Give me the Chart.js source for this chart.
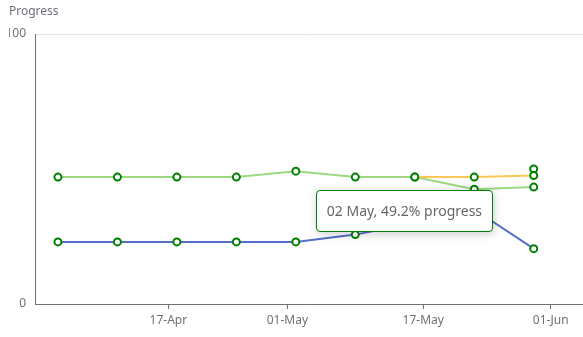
<!DOCTYPE html>
<html>
<head>
<meta charset="utf-8">
<script src="https://cdn.jsdelivr.net/npm/chart.js@4.4.1/dist/chart.umd.min.js"></script>
<style>
  body { margin: 0; background: #fff; }
  #wrap { position: relative; width: 583px; height: 337px; }
  .tip {
    position: absolute;
    pointer-events: none;
    background: #fff;
    border: 1px solid #008000;
    border-radius: 4px;
    box-shadow: 1px 2px 10px rgba(0, 0, 0, 0.2);
    padding: 10px 10px;
    font: 14px "Noto Sans", sans-serif;
    line-height: 20px;
    color: #666;
    white-space: nowrap;
  }
</style>
</head>
<body>
<div id="wrap"><canvas id="myChart"></canvas></div>
<script>
const MONTHS = ["Jan", "Feb", "Mar", "Apr", "May", "Jun", "Jul", "Aug", "Sep", "Oct", "Nov", "Dec"];

// weekly readings
const dates = ["2022-04-04", "2022-04-11", "2022-04-18", "2022-04-25", "2022-05-02", "2022-05-09", "2022-05-16", "2022-05-23", "2022-05-30"];
const series_blue = [23, 23, 23, 23, 23, 25.7, 30, 35, 20.5];
const series_green = [47, 47, 47, 47, 49.2, 47, 47, 42.5, 43.3];
const series_orange = [null, null, null, null, null, null, 47, 47, 47.6];
const series_target = [null, null, null, null, null, null, null, null, 50];

// axis labels
const xTickDates = ["2022-04-17", "2022-05-01", "2022-05-17", "2022-06-01"];
const yTickValues = [0, 100];

const toDay = (s) => Date.UTC(+s.slice(0, 4), +s.slice(5, 7) - 1, +s.slice(8, 10)) / 86400000;
const pad = (n) => (n < 10 ? "0" : "") + n;
const dayLabel = (v, sep) => {
  const d = new Date(Math.round(v) * 86400000);
  return pad(d.getUTCDate()) + sep + MONTHS[d.getUTCMonth()];
};

const toPoints = (values) =>
  values.map((v, i) => (v === null ? null : { x: toDay(dates[i]), y: v })).filter((p) => p);

const lineSet = (values, color) => ({
  data: toPoints(values),
  borderColor: color,
  backgroundColor: color,
  borderWidth: 2,
  pointRadius: 3.5,
  pointBorderWidth: 2,
  pointBorderColor: "#008000",
  pointBackgroundColor: "#fff",
  tension: 0,
});

const data_1 = {
  datasets: [
    lineSet(series_orange, "#fac858"),
    lineSet(series_target, "#ee6666"),
    lineSet(series_green, "#9bd881"),
    lineSet(series_blue, "#5470c6"),
  ],
};

//External tooltip
const externalTooltipHandler = (context) => {
  const { chart, tooltip } = context;
  let tipEl = chart.canvas.parentNode.querySelector(".tip");
  if (!tipEl) {
    tipEl = document.createElement("div");
    tipEl.classList.add("tip");
    chart.canvas.parentNode.appendChild(tipEl);
  }
  if (tooltip.opacity === 0) {
    tipEl.style.opacity = 0;
    return;
  }
  tipEl.textContent = tooltip.body.map((b) => b.lines.join(" ")).join(" ");
  tipEl.style.opacity = 1;
  tipEl.style.left = tooltip.caretX + 20 + "px";
  tipEl.style.top = tooltip.caretY + 19 + "px";
};

const axisColor = "#6e7079";

const config_1 = {
  type: "line",
  data: data_1,
  options: {
    animation: false,
    responsive: true,
    maintainAspectRatio: false,
    events: [],
    layout: { autoPadding: false, padding: { left: 9, right: 0, top: 0, bottom: 0 } },
    scales: {
      x: {
        type: "linear",
        min: toDay("2022-04-01") + 0.3,
        max: toDay("2022-06-04") + 0.8,
        afterBuildTicks: (scale) => {
          scale.ticks = xTickDates.map((s) => ({ value: toDay(s) }));
        },
        afterFit: (scale) => {
          scale.height = 33;
          scale.paddingLeft = 0;
          scale.paddingRight = 0;
        },
        grid: {
          drawOnChartArea: false,
          drawTicks: true,
          tickLength: 5,
          color: axisColor,
        },
        border: { display: true, color: axisColor },
        ticks: {
          padding: 4,
          color: axisColor,
          font: { size: 12 },
          maxRotation: 0,
          callback: (v) => dayLabel(v, "-"),
        },
      },
      y: {
        min: 0,
        max: 100,
        afterBuildTicks: (scale) => {
          scale.ticks = yTickValues.map((v) => ({ value: v }));
        },
        afterFit: (scale) => {
          scale.width = 26;
        },
        grid: {
          drawTicks: false,
          color: (ctx) => (ctx.tick && ctx.tick.value === 100 ? "#e0e6f1" : "transparent"),
        },
        border: { display: true, color: axisColor },
        ticks: {
          padding: 9,
          color: axisColor,
          font: { size: 12 },
        },
      },
    },
    plugins: {
      legend: { display: false },
      title: {
        display: true,
        text: "Progress",
        align: "start",
        color: axisColor,
        font: { size: 12, weight: "normal" },
        padding: { top: 4.8, bottom: 14.8 },
      },
      tooltip: {
        enabled: false,
        external: externalTooltipHandler,
        callbacks: {
          title: () => "",
          label: (ctx) => dayLabel(ctx.parsed.x, " ") + ", " + ctx.parsed.y + "% progress",
        },
      },
    },
  },
};

Chart.defaults.font.family = "'Noto Sans', sans-serif";

var myChart_1 = new Chart(document.getElementById("myChart"), config_1);

// show the reading for 02 May
const el = myChart_1.getDatasetMeta(2).data[4];
myChart_1.tooltip.setActiveElements([{ datasetIndex: 2, index: 4 }], { x: el.x, y: el.y });
myChart_1.update();
</script>
</body>
</html>
